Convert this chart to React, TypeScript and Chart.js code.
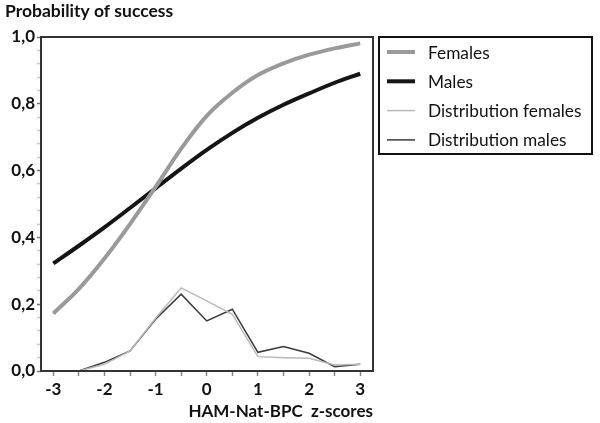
import React, { useEffect, useRef } from 'react';
import { Chart, registerables } from 'chart.js';

Chart.register(...registerables);

const zScores = [-3, -2.5, -2, -1.5, -1, -0.5, 0, 0.5, 1, 1.5, 2, 2.5, 3];
const females = [0.172, 0.246, 0.337, 0.44, 0.551, 0.666, 0.764, 0.833, 0.886, 0.921, 0.947, 0.966, 0.981];
const males = [0.322, 0.375, 0.43, 0.488, 0.547, 0.606, 0.662, 0.713, 0.758, 0.797, 0.831, 0.863, 0.89];
const distFemales = [null, 0, 0.02, 0.06, 0.158, 0.249, 0.21, 0.17, 0.043, 0.04, 0.038, 0.018, 0.02];
const distMales = [null, 0, 0.026, 0.06, 0.155, 0.23, 0.15, 0.185, 0.056, 0.073, 0.053, 0.013, 0.02];
const seriesLabels = ['Females', 'Males', 'Distribution females', 'Distribution males'];
const xTickValues = [-3, -2.5, -2, -1.5, -1, -0.5, 0, 0.5, 1, 1.5, 2, 2.5, 3];
const yTickValues = [0, 0.04, 0.08, 0.12, 0.16, 0.2, 0.24, 0.28, 0.32, 0.36, 0.4, 0.44, 0.48, 0.52, 0.56, 0.6, 0.64, 0.68, 0.72, 0.76, 0.8, 0.84, 0.88, 0.92, 0.96, 1];
const yAxisTitle = 'Probability of success';
const xAxisTitle = 'HAM-Nat-BPC  z-scores';

const FONT = 'Lato, "Open Sans", sans-serif';

const isMajorY = (v: number) => Math.abs(v * 5 - Math.round(v * 5)) < 1e-6;
const isMajorX = (v: number) => Math.abs(v - Math.round(v)) < 1e-6;

const decorPlugin = {
  id: 'decor',
  afterDatasetsDraw(chart: any) {
    const { ctx, chartArea } = chart;
    ctx.save();
    // frame
    ctx.strokeStyle = '#333';
    ctx.lineWidth = 2;
    ctx.strokeRect(chartArea.left, chartArea.top, chartArea.right - chartArea.left, chartArea.bottom - chartArea.top);
    // y title
    ctx.fillStyle = '#111';
    ctx.font = `bold 17.5px ${FONT}`;
    ctx.textAlign = 'left';
    ctx.textBaseline = 'alphabetic';
    ctx.fillText(yAxisTitle, 5, 17);
    // legend
    const bx = chartArea.right + 6;
    const by = chartArea.top;
    const bw = 213;
    const bh = 117;
    ctx.strokeStyle = '#111';
    ctx.lineWidth = 2;
    ctx.strokeRect(bx, by, bw, bh);
    ctx.font = `17.3px ${FONT}`;
    ctx.textBaseline = 'middle';
    chart.data.datasets.forEach((ds: any, i: number) => {
      const y = by + 15 + i * 29.3;
      ctx.strokeStyle = ds.borderColor;
      ctx.lineWidth = ds.borderWidth;
      ctx.beginPath();
      ctx.moveTo(bx + 8, y);
      ctx.lineTo(bx + 36, y);
      ctx.stroke();
      ctx.fillStyle = '#111';
      ctx.fillText(ds.label, bx + 49, y + 1);
    });
    ctx.restore();
  },
};

export default function App() {
  const canvasRef = useRef<HTMLCanvasElement | null>(null);

  useEffect(() => {
    document.body.style.margin = '0';
    const canvas = canvasRef.current;
    if (!canvas) return;
    const chart = new Chart(canvas, {
      type: 'line',
      data: {
        labels: zScores,
        datasets: [
          {
            label: seriesLabels[0],
            data: zScores.map((x, i) => ({ x, y: females[i] })),
            borderColor: '#9a9a9a',
            borderWidth: 4,
            pointRadius: 0,
            cubicInterpolationMode: 'monotone',
          },
          {
            label: seriesLabels[1],
            data: zScores.map((x, i) => ({ x, y: males[i] })),
            borderColor: '#151515',
            borderWidth: 4,
            pointRadius: 0,
            cubicInterpolationMode: 'monotone',
          },
          {
            label: seriesLabels[2],
            data: zScores.map((x, i) => ({ x, y: distFemales[i] })),
            borderColor: '#b8b8b8',
            borderWidth: 1.5,
            pointRadius: 0,
          },
          {
            label: seriesLabels[3],
            data: zScores.map((x, i) => ({ x, y: distMales[i] })),
            borderColor: '#3a3a3a',
            borderWidth: 1.5,
            pointRadius: 0,
          },
        ] as any,
      },
      options: {
        animation: false,
        responsive: false,
        devicePixelRatio: 1,
        layout: { padding: { left: 0, right: 227, top: 37, bottom: 0 } },
        plugins: {
          legend: { display: false },
          tooltip: { enabled: false },
          title: { display: false },
        },
        scales: {
          x: {
            type: 'linear',
            min: -3.24,
            max: 3.25,
            afterBuildTicks: (scale: any) => {
              scale.ticks = xTickValues.map((v) => ({ value: v }));
            },
            afterFit: (scale: any) => {
              scale.height = 52;
            },
            border: { display: false },
            grid: {
              drawOnChartArea: false,
              drawTicks: true,
              tickLength: 5,
              tickColor: '#888',
              tickWidth: 1.5,
            },
            ticks: {
              autoSkip: false,
              maxRotation: 0,
              padding: 3,
              color: '#111',
              font: { family: FONT, size: 17, weight: 'bold' },
              callback: (v: any) => (isMajorX(Number(v)) ? String(Math.round(Number(v))) : ''),
            },
            title: {
              display: true,
              text: xAxisTitle,
              align: 'end',
              color: '#111',
              font: { family: FONT, size: 17, weight: 'bold' },
              padding: { top: 0, bottom: 1 },
            },
          },
          y: {
            type: 'linear',
            min: 0,
            max: 1,
            afterBuildTicks: (scale: any) => {
              scale.ticks = yTickValues.map((v) => ({ value: v }));
            },
            afterFit: (scale: any) => {
              scale.width = 41;
            },
            border: { display: false },
            grid: {
              drawOnChartArea: false,
              drawTicks: true,
              tickLength: 4,
              tickColor: (c: any) => (isMajorY(c.tick.value) ? '#777' : '#c8c8c8'),
              tickWidth: 1.5,
            },
            ticks: {
              autoSkip: false,
              padding: 2,
              color: '#111',
              font: { family: FONT, size: 17, weight: 'bold' },
              callback: (v: any) => (isMajorY(Number(v)) ? Number(v).toFixed(1).replace('.', ',') : ''),
            },
          },
        },
      } as any,
      plugins: [decorPlugin],
    });
    return () => chart.destroy();
  }, []);

  return (
    <div style={{ width: 600, height: 423, background: '#fff' }}>
      <canvas ref={canvasRef} width={600} height={423} style={{ display: 'block' }} />
    </div>
  );
}
